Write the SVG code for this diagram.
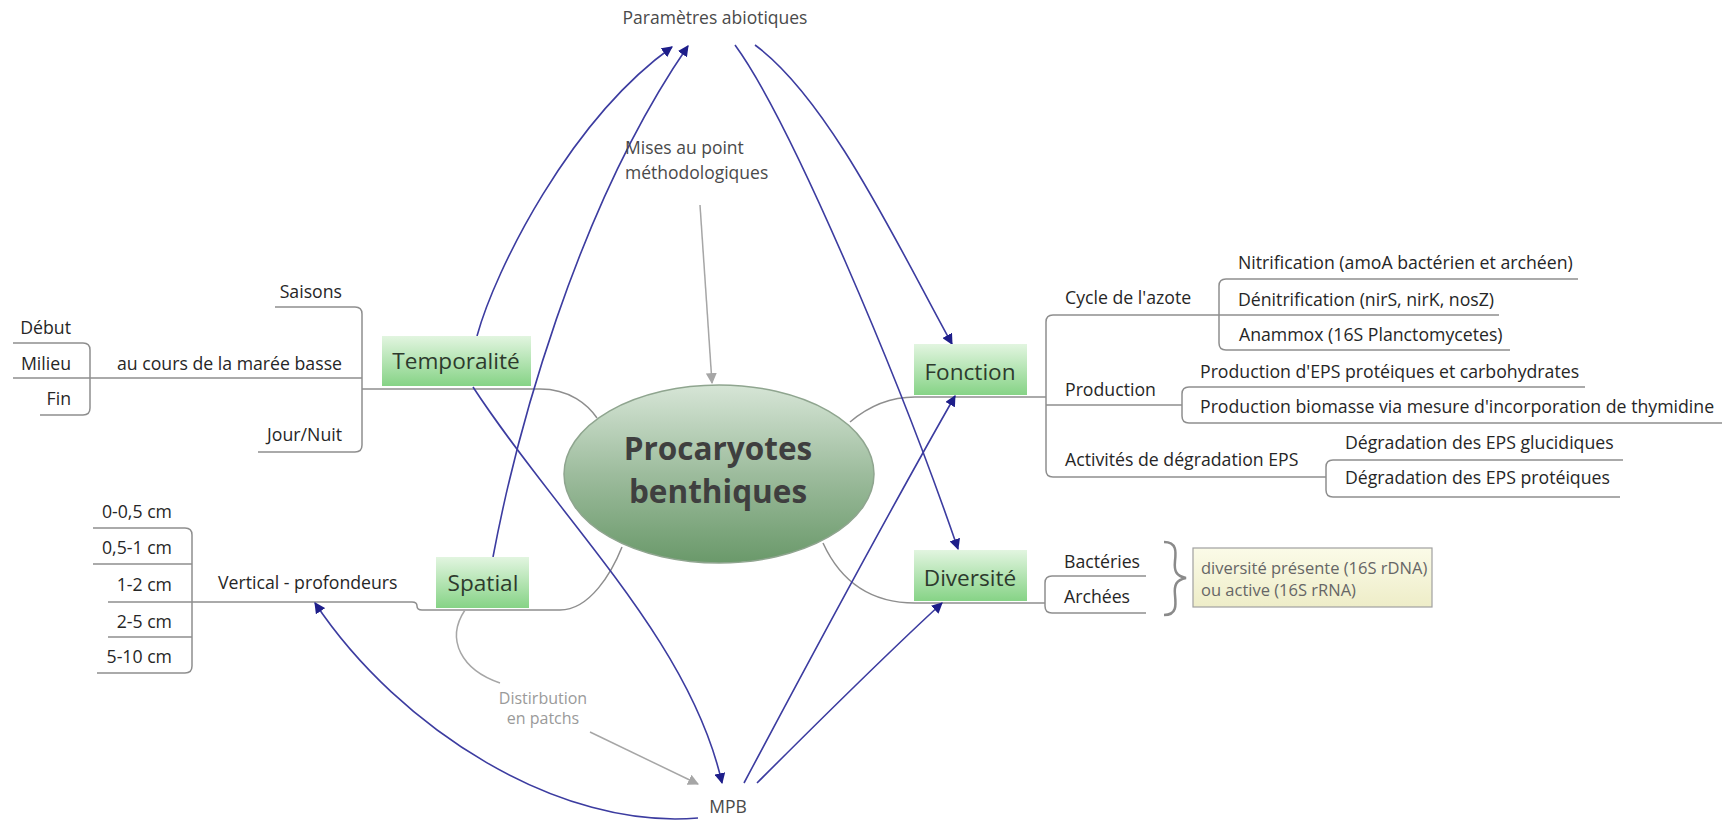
<svg xmlns="http://www.w3.org/2000/svg" width="1724" height="828" viewBox="0 0 1724 828">
<style>
text{font-family:"Open Sans","Liberation Sans",sans-serif;}
.lbl{font-size:17.7px;fill:#262626;}
.box{font-size:22.6px;fill:#2d3a2d;text-anchor:middle;}
.tree{fill:none;stroke:#8e8e8e;stroke-width:1.5;}
.blue{fill:none;stroke:#3c3ca0;stroke-width:1.6;marker-end:url(#ab);}
.grey{fill:none;stroke:#a6a6a6;stroke-width:1.5;}
.float{font-size:17.5px;fill:#4a4a4a;}
.gtxt{font-size:16px;fill:#9a9a9a;text-anchor:middle;}
</style>
<defs>
<linearGradient id="gbox" x1="0" y1="0" x2="0" y2="1">
<stop offset="0" stop-color="#e2f5e0"/><stop offset="1" stop-color="#86d386"/>
</linearGradient>
<linearGradient id="gell" x1="0" y1="0" x2="0" y2="1">
<stop offset="0" stop-color="#d6e5d6"/><stop offset="0.5" stop-color="#9dbc9d"/><stop offset="1" stop-color="#6a996a"/>
</linearGradient>
<linearGradient id="gnote" x1="0" y1="0" x2="0" y2="1">
<stop offset="0" stop-color="#fbfbe8"/><stop offset="1" stop-color="#eeedc8"/>
</linearGradient>
<marker id="ab" viewBox="0 0 10 10" refX="9" refY="5" markerWidth="11" markerHeight="11" markerUnits="userSpaceOnUse" orient="auto">
<path d="M0,0 L10,5 L0,10 z" fill="#1e1e8a"/>
</marker>
<marker id="ag" viewBox="0 0 10 10" refX="9" refY="5" markerWidth="11" markerHeight="11" markerUnits="userSpaceOnUse" orient="auto">
<path d="M0,0 L10,5 L0,10 z" fill="#a6a6a6"/>
</marker>
</defs>

<g id="connectors">
<!-- tree lines -->
<path class="tree" d="M362,389 H540 C570,389 588,405 597,418"/>
<path class="tree" d="M108,602 H412 Q417,602 417,606 Q417,610 422,610 H560 C590,610 612,572 622,547"/>
<path class="tree" d="M850,422 C870,405 890,397 915,397 H1046"/>
<path class="tree" d="M823,543 C840,580 870,603 915,603 H1045"/>
<!-- Temporalité children -->
<path class="tree" d="M275,307 H355 Q362,307 362,314 V445 Q362,452 355,452 H258"/>
<path class="tree" d="M13,378 H362"/>
<path class="tree" d="M13,343 H83 Q90,343 90,350 V408 Q90,415 83,415 H40"/>
<!-- Spatial children -->
<path class="tree" d="M93,528 H185 Q192,528 192,535 V666 Q192,673 185,673 H97"/>
<path class="tree" d="M93,564 H192"/>
<path class="tree" d="M108,637 H192"/>
<!-- Fonction children -->
<path class="tree" d="M1499,315 H1053 Q1046,315 1046,322 V470 Q1046,477 1053,477 H1326"/>
<path class="tree" d="M1578,279 H1226 Q1219,279 1219,286 V343 Q1219,350 1226,350 H1510"/>
<path class="tree" d="M1046,405 H1182"/>
<path class="tree" d="M1585,387 H1189 Q1182,387 1182,394 V416 Q1182,423 1189,423 H1722"/>
<path class="tree" d="M1623,460 H1333 Q1326,460 1326,467 V490 Q1326,497 1333,497 H1620"/>
<!-- Diversité children -->
<path class="tree" d="M1146,576 H1052 Q1045,576 1045,583 V606 Q1045,613 1052,613 H1146"/>
<path d="M1164,542 C1177,542 1176,552 1175,561 C1174,571 1176,576 1186,578 C1176,580 1174,585 1175,595 C1176,605 1177,615 1164,615" fill="none" stroke="#8a8a8a" stroke-width="2.5"/>
<!-- grey arrows -->
<path class="grey" d="M700,205 L712,383" marker-end="url(#ag)"/>
<path class="grey" d="M465,610 C445,640 462,670 500,683"/>
<path class="grey" d="M590,732 L698,784" marker-end="url(#ag)"/>
<!-- blue relations -->
<path class="blue" d="M477,336 C495,270 570,120 672,47"/>
<path class="blue" d="M493,557 C515,440 575,210 688,46"/>
<path class="blue" d="M735,45 C790,120 900,380 958,549"/>
<path class="blue" d="M755,45 C830,100 900,250 952,344"/>
<path class="blue" d="M473,387 C560,520 690,640 722,783"/>
<path class="blue" d="M744,783 C820,640 890,510 955,396"/>
<path class="blue" d="M757,783 C820,720 880,660 942,603"/>
<path class="blue" d="M698,818 C560,830 400,730 315,603"/>
</g>

<g id="center">
<ellipse cx="719" cy="474" rx="155" ry="89" fill="url(#gell)" stroke="#8fa58f" stroke-width="1.5"/>
<text x="718" y="460" text-anchor="middle" font-size="31.5" font-weight="bold" fill="#3f3f3f">Procaryotes</text>
<text x="718" y="503" text-anchor="middle" font-size="31.5" font-weight="bold" fill="#3f3f3f">benthiques</text>
</g>

<g id="temporalite">
<rect x="382" y="336" width="149" height="50" fill="url(#gbox)"/>
<text class="box" x="456" y="369">Temporalité</text>
<text class="lbl" x="342" y="298" text-anchor="end">Saisons</text>
<text class="lbl" x="342" y="370" text-anchor="end">au cours de la marée basse</text>
<text class="lbl" x="342" y="441" text-anchor="end">Jour/Nuit</text>
<text class="lbl" x="71" y="334" text-anchor="end">Début</text>
<text class="lbl" x="71" y="370" text-anchor="end">Milieu</text>
<text class="lbl" x="71" y="405" text-anchor="end">Fin</text>
</g>

<g id="spatial">
<rect x="436" y="557" width="93" height="51" fill="url(#gbox)"/>
<text class="box" x="483" y="591">Spatial</text>
<text class="lbl" x="218" y="589">Vertical - profondeurs</text>
<text class="lbl" x="172" y="518" text-anchor="end">0-0,5 cm</text>
<text class="lbl" x="172" y="554" text-anchor="end">0,5-1 cm</text>
<text class="lbl" x="172" y="591" text-anchor="end">1-2 cm</text>
<text class="lbl" x="172" y="628" text-anchor="end">2-5 cm</text>
<text class="lbl" x="172" y="663" text-anchor="end">5-10 cm</text>
</g>

<g id="fonction">
<rect x="914" y="344" width="113" height="51" fill="url(#gbox)"/>
<text class="box" x="970" y="380">Fonction</text>
<text class="lbl" x="1065" y="304">Cycle de l'azote</text>
<text class="lbl" x="1238" y="269">Nitrification (amoA bactérien et archéen)</text>
<text class="lbl" x="1238" y="306">Dénitrification (nirS, nirK, nosZ)</text>
<text class="lbl" x="1239" y="341">Anammox (16S Planctomycetes)</text>
<text class="lbl" x="1065" y="396">Production</text>
<text class="lbl" x="1200" y="378">Production d'EPS protéiques et carbohydrates</text>
<text class="lbl" x="1200" y="413">Production biomasse via mesure d'incorporation de thymidine</text>
<text class="lbl" x="1065" y="466">Activités de dégradation EPS</text>
<text class="lbl" x="1345" y="449">Dégradation des EPS glucidiques</text>
<text class="lbl" x="1345" y="484">Dégradation des EPS protéiques</text>
</g>

<g id="diversite">
<rect x="914" y="550" width="113" height="51" fill="url(#gbox)"/>
<text class="box" x="970" y="586">Diversité</text>
<text class="lbl" x="1064" y="568">Bactéries</text>
<text class="lbl" x="1064" y="603">Archées</text>
</g>

<g id="note">
<rect x="1193" y="548" width="239" height="59" fill="url(#gnote)" stroke="#a0a0a0" stroke-width="1.2"/>
<text x="1201" y="574" font-size="16.5" fill="#666">diversité présente (16S rDNA)</text>
<text x="1201" y="596" font-size="16.5" fill="#666">ou active (16S rRNA)</text>
</g>

<g id="parametres">
<text class="float" x="715" y="24" text-anchor="middle">Paramètres abiotiques</text>
</g>
<g id="mises">
<text class="float" x="625" y="154" fill="#555">Mises au point</text>
<text class="float" x="625" y="179" fill="#555">méthodologiques</text>
</g>
<g id="mpb">
<text class="float" x="728" y="813" text-anchor="middle">MPB</text>
</g>
<g id="distribution">
<text class="gtxt" x="543" y="704">Distirbution</text>
<text class="gtxt" x="543" y="724">en patchs</text>
</g>
</svg>
